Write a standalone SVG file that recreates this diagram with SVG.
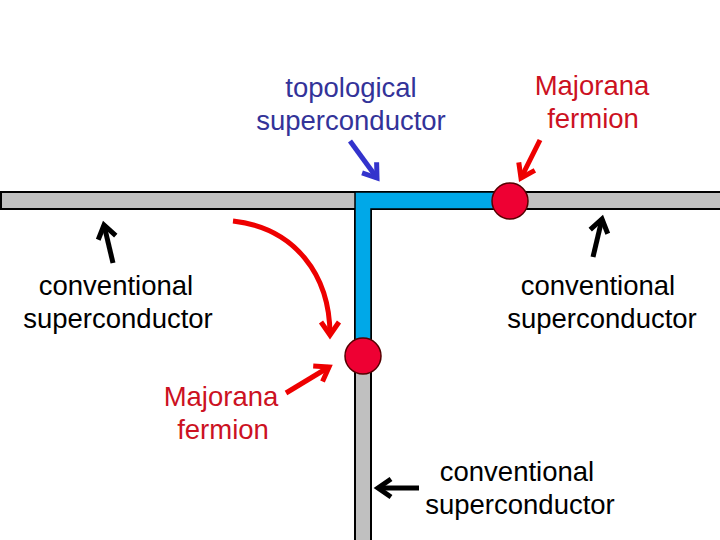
<svg xmlns="http://www.w3.org/2000/svg" width="720" height="540" viewBox="0 0 720 540">
<defs>
<style>
.t{font-family:"Liberation Sans",Arial,sans-serif;font-size:27.5px;text-anchor:middle}
.blue{fill:#333399}
.red{fill:#cc1122}
.blk{fill:#000}
.bar{fill:#c0c0c0;stroke:#000;stroke-width:2}
.sc{fill:#00a8e8;stroke:#000;stroke-width:1.5}
.mf{fill:#ee0033;stroke:#550000;stroke-width:1.5}
.arr{fill:none;stroke-width:5}
</style>
<marker id="hb" markerUnits="userSpaceOnUse" markerWidth="34" markerHeight="34" viewBox="-22 -17 34 34" refX="0" refY="0" orient="auto"><path d="M-13,-9 L0,0 L-13,9" fill="none" stroke="#3333cc" stroke-width="5"/></marker>
<marker id="hr" markerUnits="userSpaceOnUse" markerWidth="34" markerHeight="34" viewBox="-22 -17 34 34" refX="0" refY="0" orient="auto"><path d="M-13,-9 L0,0 L-13,9" fill="none" stroke="#ee0000" stroke-width="5"/></marker>
<marker id="hk" markerUnits="userSpaceOnUse" markerWidth="34" markerHeight="34" viewBox="-22 -17 34 34" refX="0" refY="0" orient="auto"><path d="M-13,-9 L0,0 L-13,9" fill="none" stroke="#000" stroke-width="5"/></marker>
</defs>
<rect width="720" height="540" fill="#fff"/>
<g id="wires">
<rect class="bar" x="1" y="192" width="722" height="17"/>
<rect class="bar" x="355" y="209" width="16" height="335"/>
</g>
<g id="topological-sc">
<polygon class="sc" points="355,192 510,192 510,209 371,209 371,356 355,356"/>
</g>
<g id="majorana-top"><circle class="mf" cx="510" cy="201" r="18"/></g>
<g id="majorana-bottom"><circle class="mf" cx="363" cy="356" r="18"/></g>
<g id="connectors">
<line class="arr" x1="350" y1="141" x2="377" y2="178" stroke="#3333cc" marker-end="url(#hb)"/>
<line class="arr" x1="540" y1="140" x2="521" y2="178" stroke="#ee0000" marker-end="url(#hr)"/>
<path class="arr" d="M233,221 C295,228 330,275 330,335" stroke="#ee0000" marker-end="url(#hr)"/>
<line class="arr" x1="286" y1="393" x2="329" y2="367" stroke="#ee0000" marker-end="url(#hr)"/>
<line class="arr" x1="113" y1="263" x2="104" y2="225" stroke="#000" marker-end="url(#hk)"/>
<line class="arr" x1="593" y1="257" x2="602" y2="219" stroke="#000" marker-end="url(#hk)"/>
<line class="arr" x1="419" y1="488" x2="378" y2="488" stroke="#000" marker-end="url(#hk)"/>
</g>
<g id="label-topological">
<text class="t blue" x="351" y="97">topological</text>
<text class="t blue" x="351" y="130">superconductor</text>
</g>
<g id="label-majorana-top">
<text class="t red" x="592" y="95">Majorana</text>
<text class="t red" x="593" y="128">fermion</text>
</g>
<g id="label-majorana-bottom">
<text class="t red" x="221" y="406">Majorana</text>
<text class="t red" x="223" y="439">fermion</text>
</g>
<g id="label-conv-left">
<text class="t blk" x="116" y="295">conventional</text>
<text class="t blk" x="118" y="328">superconductor</text>
</g>
<g id="label-conv-right">
<text class="t blk" x="598" y="295">conventional</text>
<text class="t blk" x="602" y="328">superconductor</text>
</g>
<g id="label-conv-bottom">
<text class="t blk" x="517" y="481">conventional</text>
<text class="t blk" x="520" y="514">superconductor</text>
</g>
</svg>
